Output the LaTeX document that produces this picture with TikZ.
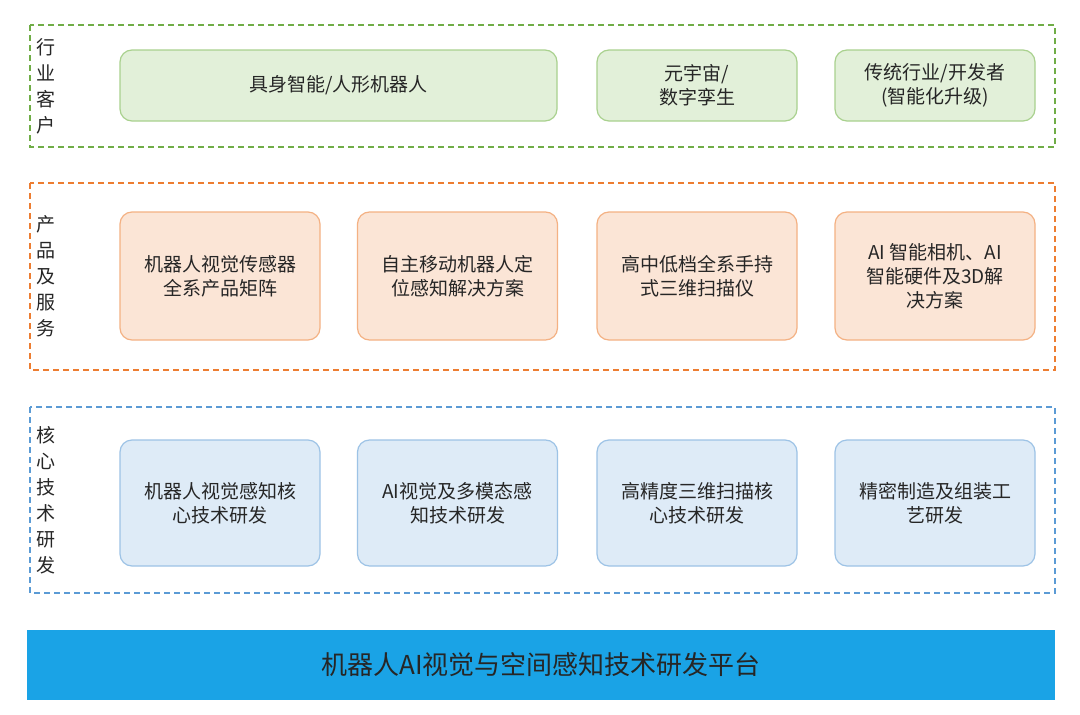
\documentclass[tikz,border=0pt]{standalone}
\usepackage{fontspec}
\setmainfont{Noto Sans CJK SC}
\begin{document}
\begin{tikzpicture}[x=1pt,y=-1pt,
  grp/.style={draw, dashed, line width=2pt, dash pattern=on 6pt off 4pt},
  box/.style={draw, line width=1.2pt, rounded corners=12pt, align=center, font=\fontsize{19}{24}\selectfont, text=black!85},
  gbox/.style={box, draw=green!55!black!45!white, fill=green!10!white},
  obox/.style={box, draw=orange!50!white, fill=orange!14!white},
  bbox/.style={box, draw=cyan!50!blue!40!white, fill=cyan!10!blue!8!white},
  vlab/.style={align=center, font=\fontsize{19}{26}\selectfont, text=black!85}]
\definecolor{gd}{HTML}{70AD47}\definecolor{od}{HTML}{ED7D31}\definecolor{bd}{HTML}{5B9BD5}
\definecolor{gf}{HTML}{E2F0D9}\definecolor{gb}{HTML}{A9D18E}
\definecolor{of}{HTML}{FBE5D6}\definecolor{ob}{HTML}{F4B183}
\definecolor{bf}{HTML}{DEEBF7}\definecolor{bb}{HTML}{9DC3E6}
\definecolor{bar}{HTML}{1AA3E6}
\useasboundingbox (0,0) rectangle (1080,715);
\fill[white] (0,0) rectangle (1080,715);
% groups
\draw[grp,draw=gd] (30,25) rectangle (1055,147);
\draw[grp,draw=od] (30,183) rectangle (1055,370);
\draw[grp,draw=bd] (30,407) rectangle (1055,593);
\node[vlab] (l1) at (46,86) {行\\业\\客\\户};
\node[vlab] (l2) at (46,276) {产\\品\\及\\服\\务};
\node[vlab] (l3) at (46,500) {核\\心\\技\\术\\研\\发};
% green
\node[gbox,draw=gb,fill=gf,minimum width=437pt,minimum height=71pt] (g1) at (338.5,85.5) {具身智能/人形机器人};
\node[gbox,draw=gb,fill=gf,minimum width=200pt,minimum height=71pt] (g2) at (697,85.5) {元宇宙/\\数字孪生};
\node[gbox,draw=gb,fill=gf,minimum width=200pt,minimum height=71pt] (g3) at (935,85.5) {传统行业/开发者\\(智能化升级)};
% orange
\foreach \n/\x/\t in {o1/220/{机器人视觉传感器\\全系产品矩阵},o2/457.5/{自主移动机器人定\\位感知解决方案},o3/697/{高中低档全系手持\\式三维扫描仪},o4/935/{AI 智能相机、AI\\智能硬件及3D解\\决方案}}
  \node[obox,draw=ob,fill=of,minimum width=200pt,minimum height=128pt] (\n) at (\x,276) {\t};
% blue
\foreach \n/\x/\t in {b1/220/{机器人视觉感知核\\心技术研发},b2/457.5/{AI视觉及多模态感\\知技术研发},b3/697/{高精度三维扫描核\\心技术研发},b4/935/{精密制造及组装工\\艺研发}}
  \node[bbox,draw=bb,fill=bf,minimum width=200pt,minimum height=126pt] (\n) at (\x,503) {\t};
% bar
\node[fill=bar,minimum width=1028pt,minimum height=70pt,font=\fontsize{26}{30}\selectfont,text=black!85] (bar) at (541,665) {机器人AI视觉与空间感知技术研发平台};
\end{tikzpicture}
\end{document}
